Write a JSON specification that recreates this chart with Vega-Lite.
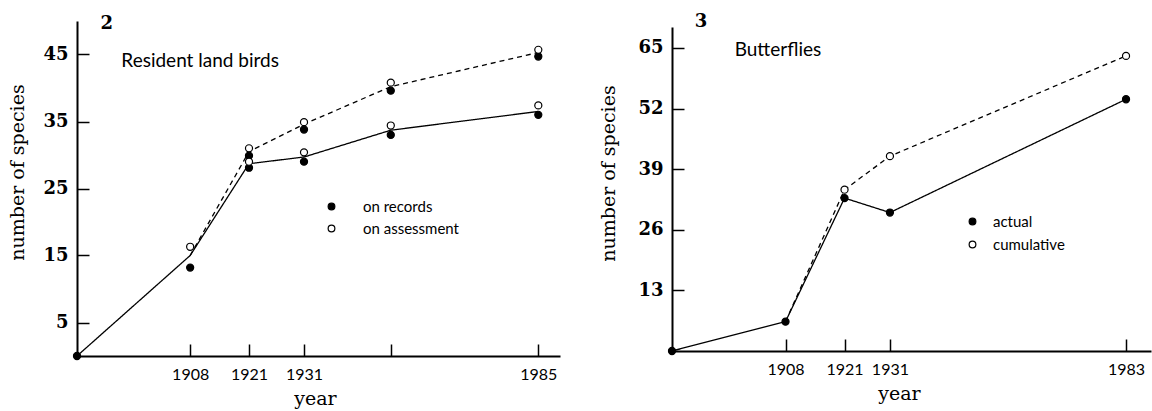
{
  "$schema": "https://vega.github.io/schema/vega-lite/v6.json",
  "background": "white",
  "padding": {"left": 8, "top": 12, "right": 2, "bottom": 2},
  "spacing": 39,
  "config": {
    "view": {"stroke": null},
    "axis": {
      "grid": false,
      "domainColor": "black",
      "domainWidth": 2,
      "tickColor": "black",
      "tickWidth": 1.5,
      "tickSize": -12,
      "labelColor": "black",
      "titleColor": "black",
      "titleFont": "DejaVu Serif",
      "titleFontSize": 19,
      "titleFontWeight": "normal"
    },
    "axisX": {"labelFont": "Lato", "labelFontSize": 16, "labelPadding": 22, "titlePadding": 7, "format": "d", "labelOverlap": false},
    "axisY": {"labelFont": "DejaVu Serif", "labelFontWeight": "bold", "labelFontSize": 18, "labelPadding": 21, "titleBaseline": "middle", "titleAlign": "center"},
    "legend": {"title": null, "orient": "none", "labelFont": "Lato", "labelFontSize": 15, "labelColor": "black", "symbolType": "circle", "symbolSize": 45, "symbolStrokeColor": "black", "symbolStrokeWidth": 1.2, "padding": 0}
  },
  "resolve": {"scale": {"fill": "independent", "strokeDash": "independent"}, "legend": {"fill": "independent"}},
  "hconcat": [
    {
      "width": 483,
      "height": 335,
      "layer": [
        {
          "data": {"values": [
            {"year": 1883, "n": 0, "s": "present"},
            {"year": 1908, "n": 15, "s": "present"},
            {"year": 1921, "n": 28.7, "s": "present"},
            {"year": 1931, "n": 29.7, "s": "present"},
            {"year": 1951, "n": 33.7, "s": "present"},
            {"year": 1985, "n": 36.5, "s": "present"},
            {"year": 1908, "n": 15, "s": "cumulative"},
            {"year": 1921, "n": 30.5, "s": "cumulative"},
            {"year": 1931, "n": 34.6, "s": "cumulative"},
            {"year": 1951, "n": 40.2, "s": "cumulative"},
            {"year": 1985, "n": 45.3, "s": "cumulative"}
          ]},
          "mark": {"type": "line", "color": "black", "strokeWidth": 1.3},
          "encoding": {
            "x": {"field": "year", "type": "quantitative", "title": "year",
              "scale": {"type": "linear", "domain": [1883, 1921, 1931, 1990], "range": [0, 172, 227, 483], "nice": false, "zero": false},
              "axis": {"values": [1908, 1921, 1931, 1951, 1985], "labelExpr": "datum.value == 1951 ? '' : datum.label", "titleX": 238}},
            "y": {"field": "n", "type": "quantitative", "title": "number of species",
              "scale": {"domain": [0, 50], "nice": false, "zero": true},
              "axis": {"values": [5, 15, 25, 35, 45], "titleX": -60, "titleY": 151}},
            "strokeDash": {"field": "s", "type": "nominal", "scale": {"domain": ["present", "cumulative"], "range": [[1, 0], [5, 4]]}, "legend": null}
          }
        },
        {
          "data": {"values": [
            {"year": 1883, "n": 0, "type": "on records"},
            {"year": 1908, "n": 13.2, "type": "on records"},
            {"year": 1921, "n": 29.9, "type": "on records"},
            {"year": 1921, "n": 28.1, "type": "on records"},
            {"year": 1931, "n": 33.8, "type": "on records"},
            {"year": 1931, "n": 29.0, "type": "on records"},
            {"year": 1951, "n": 39.6, "type": "on records"},
            {"year": 1951, "n": 33.0, "type": "on records"},
            {"year": 1985, "n": 44.7, "type": "on records"},
            {"year": 1985, "n": 36.0, "type": "on records"},
            {"year": 1908, "n": 16.3, "type": "on assessment"},
            {"year": 1921, "n": 31.0, "type": "on assessment"},
            {"year": 1921, "n": 29.0, "type": "on assessment"},
            {"year": 1931, "n": 34.9, "type": "on assessment"},
            {"year": 1931, "n": 30.4, "type": "on assessment"},
            {"year": 1951, "n": 40.8, "type": "on assessment"},
            {"year": 1951, "n": 34.4, "type": "on assessment"},
            {"year": 1985, "n": 45.7, "type": "on assessment"},
            {"year": 1985, "n": 37.4, "type": "on assessment"}
          ]},
          "mark": {"type": "point", "shape": "circle", "filled": true, "stroke": "black", "strokeWidth": 1.2, "size": 50, "opacity": 1},
          "encoding": {
            "x": {"field": "year", "type": "quantitative"},
            "y": {"field": "n", "type": "quantitative"},
            "fill": {"field": "type", "type": "nominal", "scale": {"domain": ["on records", "on assessment"], "range": ["black", "white"]},
              "legend": {"legendX": 247, "legendY": 178, "labelOffset": 24, "rowPadding": 6}}
          }
        },
        {
          "data": {"values": [{"label": "2"}]},
          "mark": {"type": "text", "font": "DejaVu Serif", "fontWeight": "bold", "fontSize": 18, "align": "center", "baseline": "middle", "color": "black"},
          "encoding": {"text": {"field": "label"}, "x": {"datum": 1889.6}, "y": {"datum": 49.6}}
        },
        {
          "data": {"values": [{"label": "Resident land birds"}]},
          "mark": {"type": "text", "font": "Lato", "fontSize": 19, "align": "left", "baseline": "alphabetic", "color": "black"},
          "encoding": {"text": {"field": "label"}, "x": {"datum": 1892.8}, "y": {"datum": 43.1}}
        }
      ]
    },
    {
      "width": 479,
      "height": 330,
      "layer": [
        {
          "data": {"values": [
            {"year": 1883, "n": 0, "s": "present"},
            {"year": 1908, "n": 6.3, "s": "present"},
            {"year": 1921, "n": 32.8, "s": "present"},
            {"year": 1931, "n": 29.7, "s": "present"},
            {"year": 1983, "n": 54.0, "s": "present"},
            {"year": 1908, "n": 6.3, "s": "cumulative"},
            {"year": 1921, "n": 34.6, "s": "cumulative"},
            {"year": 1931, "n": 41.8, "s": "cumulative"},
            {"year": 1983, "n": 63.3, "s": "cumulative"}
          ]},
          "mark": {"type": "line", "color": "black", "strokeWidth": 1.3},
          "encoding": {
            "x": {"field": "year", "type": "quantitative", "title": "year",
              "scale": {"domain": [1883, 1988.5], "nice": false, "zero": false},
              "axis": {"values": [1908, 1921, 1931, 1983], "titleX": 227}},
            "y": {"field": "n", "type": "quantitative", "title": "number of species",
              "scale": {"domain": [0, 69.5], "range": [330, 6], "nice": false, "zero": true},
              "axis": {"values": [13, 26, 39, 52, 65], "titleX": -64, "titleY": 152}},
            "strokeDash": {"field": "s", "type": "nominal", "scale": {"domain": ["present", "cumulative"], "range": [[1, 0], [5, 4]]}, "legend": null}
          }
        },
        {
          "data": {"values": [
            {"year": 1883, "n": 0, "type": "actual"},
            {"year": 1908, "n": 6.3, "type": "actual"},
            {"year": 1921, "n": 32.8, "type": "actual"},
            {"year": 1931, "n": 29.7, "type": "actual"},
            {"year": 1983, "n": 54.0, "type": "actual"},
            {"year": 1921, "n": 34.6, "type": "cumulative"},
            {"year": 1931, "n": 41.8, "type": "cumulative"},
            {"year": 1983, "n": 63.3, "type": "cumulative"}
          ]},
          "mark": {"type": "point", "shape": "circle", "filled": true, "stroke": "black", "strokeWidth": 1.2, "size": 50, "opacity": 1},
          "encoding": {
            "x": {"field": "year", "type": "quantitative"},
            "y": {"field": "n", "type": "quantitative"},
            "fill": {"field": "type", "type": "nominal", "scale": {"domain": ["actual", "cumulative"], "range": ["black", "white"]},
              "legend": {"legendX": 293, "legendY": 193, "labelOffset": 13, "rowPadding": 7}}
          }
        },
        {
          "data": {"values": [{"label": "3"}]},
          "mark": {"type": "text", "font": "DejaVu Serif", "fontWeight": "bold", "fontSize": 18, "align": "center", "baseline": "middle", "color": "black"},
          "encoding": {"text": {"field": "label"}, "x": {"datum": 1889.4}, "y": {"datum": 70.6}}
        },
        {
          "data": {"values": [{"label": "Butterflies"}]},
          "mark": {"type": "text", "font": "Lato", "fontSize": 19, "align": "left", "baseline": "alphabetic", "color": "black"},
          "encoding": {"text": {"field": "label"}, "x": {"datum": 1896.8}, "y": {"datum": 63.3}}
        }
      ]
    }
  ]
}
